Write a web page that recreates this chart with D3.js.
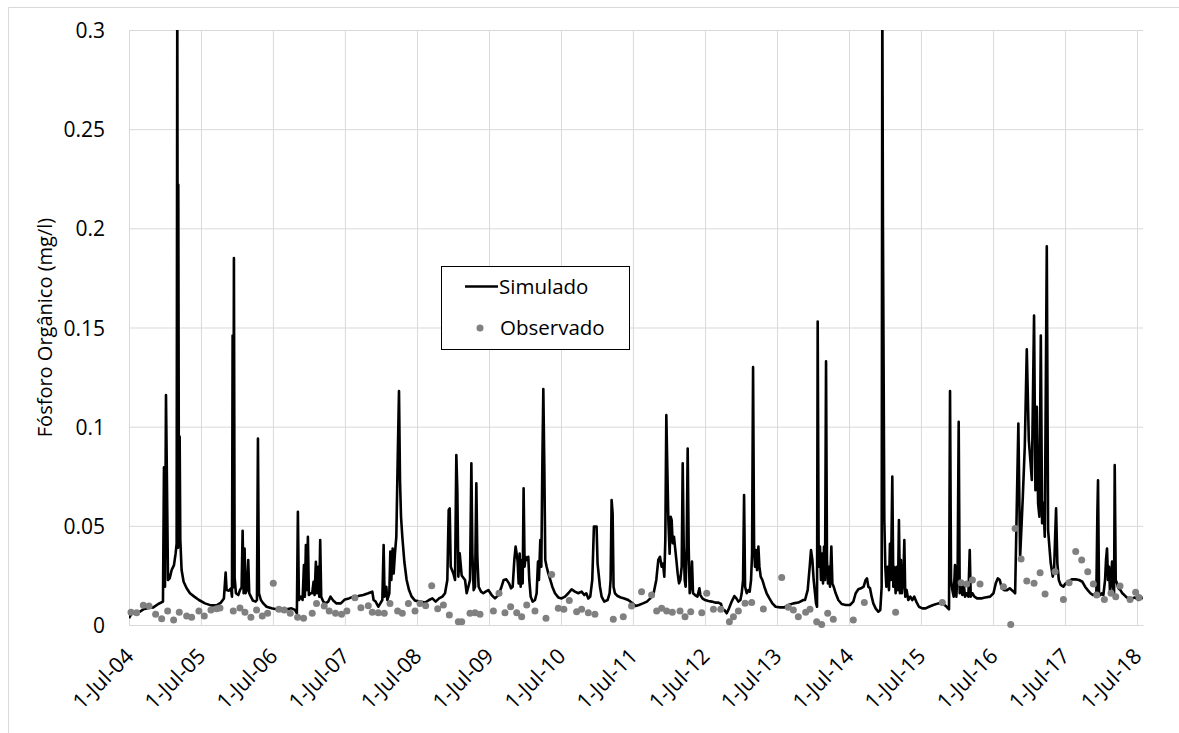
<!DOCTYPE html>
<html>
<head>
<meta charset="utf-8">
<script src="https://cdn.jsdelivr.net/npm/d3@7"></script>
<style>
  body { margin: 0; background: #fff; }
  svg text { font-family: "Open Sans", sans-serif; fill: #000; }
</style>
</head>
<body>
<div id="chart"></div>
<script>
/* Fósforo orgânico: simulado x observado, jul/2004 - jul/2018.
   Dates are decimal years (2004.5 = 1-Jul-04). */

// simulated series [decimal year, mg/l]
const simulado = [
  [2004.500,0.0034],[2004.537,0.0059],[2004.630,0.0062],[2004.699,0.0079],[2004.769,0.0086],[2004.838,0.0089],
  [2004.907,0.0106],[2004.972,0.0118],[2004.986,0.0795],[2005.000,0.0193],[2005.014,0.116],[2005.028,0.070],
  [2005.042,0.0227],[2005.065,0.0235],[2005.093,0.0277],[2005.125,0.0302],[2005.148,0.0361],[2005.162,0.041],
  [2005.171,0.32],[2005.181,0.039],[2005.185,0.222],[2005.194,0.048],[2005.204,0.095],[2005.213,0.043],
  [2005.231,0.0277],[2005.259,0.0218],[2005.301,0.0185],[2005.347,0.016],[2005.407,0.0143],[2005.472,0.0126],
  [2005.556,0.0109],[2005.639,0.0099],[2005.718,0.0099],[2005.778,0.0113],[2005.819,0.0134],[2005.843,0.0264],
  [2005.856,0.0176],[2005.889,0.0173],[2005.917,0.0185],[2005.931,0.0143],[2005.940,0.146],[2005.949,0.019],
  [2005.958,0.185],[2005.968,0.024],[2005.986,0.016],[2006.019,0.0151],[2006.042,0.0176],[2006.065,0.019],
  [2006.079,0.0475],[2006.093,0.016],[2006.106,0.0386],[2006.120,0.016],[2006.139,0.0176],[2006.157,0.0328],
  [2006.171,0.016],[2006.194,0.0143],[2006.222,0.0123],[2006.259,0.0118],[2006.278,0.0126],[2006.292,0.094],
  [2006.306,0.016],[2006.333,0.0126],[2006.366,0.0109],[2006.412,0.0092],[2006.481,0.0084],[2006.551,0.0079],
  [2006.620,0.0076],[2006.690,0.0079],[2006.759,0.0084],[2006.806,0.0076],[2006.833,0.0059],[2006.847,0.0571],
  [2006.861,0.0126],[2006.889,0.0143],[2006.912,0.0126],[2006.931,0.0302],[2006.944,0.0143],[2006.958,0.0403],
  [2006.972,0.0176],[2006.986,0.0445],[2007.000,0.0151],[2007.023,0.016],[2007.046,0.016],[2007.065,0.0218],
  [2007.079,0.0151],[2007.097,0.0319],[2007.111,0.016],[2007.130,0.0294],[2007.144,0.0143],[2007.157,0.0428],
  [2007.171,0.0143],[2007.199,0.0118],[2007.231,0.0109],[2007.269,0.0118],[2007.301,0.0143],[2007.338,0.0123],
  [2007.384,0.0109],[2007.444,0.0109],[2007.500,0.0129],[2007.556,0.0134],[2007.616,0.0143],[2007.685,0.0146],
  [2007.755,0.0151],[2007.824,0.016],[2007.880,0.0168],[2007.898,0.0126],[2007.926,0.0118],[2007.963,0.0092],
  [2007.991,0.0109],[2008.019,0.0126],[2008.037,0.0403],[2008.050,0.0143],[2008.074,0.0193],[2008.088,0.0126],
  [2008.116,0.016],[2008.130,0.037],[2008.144,0.0227],[2008.162,0.0386],[2008.176,0.026],[2008.194,0.0361],
  [2008.213,0.0445],[2008.231,0.0815],[2008.250,0.118],[2008.264,0.073],[2008.278,0.0546],[2008.296,0.0445],
  [2008.324,0.0319],[2008.356,0.0227],[2008.389,0.0176],[2008.426,0.0143],[2008.472,0.0123],[2008.542,0.0118],
  [2008.611,0.0113],[2008.667,0.0126],[2008.713,0.0134],[2008.759,0.0118],[2008.806,0.0134],[2008.852,0.0143],
  [2008.889,0.016],[2008.921,0.0227],[2008.940,0.058],[2008.954,0.0588],[2008.968,0.0294],[2008.986,0.0277],
  [2009.005,0.026],[2009.028,0.0227],[2009.046,0.0857],[2009.060,0.068],[2009.074,0.0244],[2009.093,0.0361],
  [2009.120,0.025],[2009.167,0.0227],[2009.190,0.016],[2009.213,0.0193],[2009.236,0.0227],[2009.255,0.0815],
  [2009.269,0.036],[2009.287,0.0176],[2009.306,0.0193],[2009.324,0.0714],[2009.338,0.0344],[2009.356,0.0193],
  [2009.389,0.0168],[2009.421,0.016],[2009.454,0.0168],[2009.491,0.0176],[2009.537,0.0151],[2009.583,0.0134],
  [2009.630,0.0151],[2009.667,0.0185],[2009.704,0.0227],[2009.741,0.023],[2009.778,0.021],[2009.806,0.0185],
  [2009.829,0.0193],[2009.852,0.0328],[2009.870,0.0395],[2009.884,0.036],[2009.898,0.032],[2009.912,0.021],
  [2009.926,0.036],[2009.940,0.0193],[2009.954,0.0328],[2009.968,0.021],[2009.981,0.0689],[2009.995,0.0294],
  [2010.009,0.0344],[2010.028,0.0328],[2010.046,0.0344],[2010.060,0.0227],[2010.079,0.0143],[2010.106,0.0118],
  [2010.139,0.0126],[2010.162,0.016],[2010.181,0.032],[2010.194,0.0227],[2010.213,0.0428],[2010.227,0.0294],
  [2010.241,0.0798],[2010.255,0.119],[2010.269,0.0798],[2010.282,0.0328],[2010.301,0.0294],[2010.324,0.026],
  [2010.352,0.0227],[2010.380,0.0193],[2010.417,0.016],[2010.463,0.0139],[2010.509,0.0134],[2010.556,0.0143],
  [2010.602,0.016],[2010.648,0.018],[2010.694,0.0168],[2010.741,0.016],[2010.787,0.0168],[2010.824,0.0151],
  [2010.852,0.016],[2010.880,0.0134],[2010.907,0.0143],[2010.935,0.0227],[2010.958,0.0496],[2010.977,0.0496],
  [2010.995,0.0496],[2011.009,0.031],[2011.023,0.026],[2011.042,0.0193],[2011.065,0.0143],[2011.102,0.0118],
  [2011.148,0.0126],[2011.176,0.016],[2011.190,0.0227],[2011.204,0.063],[2011.218,0.0563],[2011.231,0.0193],
  [2011.250,0.016],[2011.287,0.0146],[2011.333,0.0139],[2011.380,0.0134],[2011.435,0.0126],[2011.481,0.0113],
  [2011.537,0.0096],[2011.583,0.0101],[2011.639,0.0109],[2011.694,0.0118],[2011.741,0.0134],[2011.787,0.016],
  [2011.824,0.0227],[2011.852,0.0328],[2011.875,0.0344],[2011.898,0.0294],[2011.917,0.031],[2011.935,0.0244],
  [2011.949,0.0428],[2011.963,0.1058],[2011.977,0.079],[2011.991,0.0529],[2012.009,0.036],[2012.023,0.0546],
  [2012.037,0.0529],[2012.051,0.0412],[2012.069,0.0445],[2012.083,0.0395],[2012.102,0.0328],[2012.120,0.026],
  [2012.139,0.021],[2012.157,0.0227],[2012.176,0.0294],[2012.190,0.0815],[2012.204,0.0395],[2012.218,0.0227],
  [2012.231,0.0193],[2012.245,0.0395],[2012.259,0.089],[2012.273,0.0395],[2012.287,0.016],[2012.301,0.0193],
  [2012.319,0.032],[2012.333,0.016],[2012.361,0.0151],[2012.394,0.0143],[2012.421,0.0185],[2012.435,0.0151],
  [2012.463,0.0134],[2012.500,0.0126],[2012.546,0.0121],[2012.593,0.0118],[2012.639,0.0113],[2012.685,0.0113],
  [2012.722,0.0106],[2012.741,0.0079],[2012.769,0.0076],[2012.801,0.0059],[2012.833,0.0084],[2012.870,0.0118],
  [2012.907,0.0146],[2012.935,0.0134],[2012.963,0.0118],[2012.991,0.0126],[2013.009,0.016],[2013.028,0.0227],
  [2013.042,0.0655],[2013.056,0.0193],[2013.079,0.016],[2013.102,0.0176],[2013.120,0.0168],[2013.139,0.0227],
  [2013.153,0.036],[2013.167,0.130],[2013.181,0.0395],[2013.194,0.0294],[2013.208,0.0378],[2013.222,0.0277],
  [2013.241,0.0395],[2013.255,0.0294],[2013.273,0.0244],[2013.296,0.0227],[2013.324,0.0193],[2013.356,0.016],
  [2013.394,0.0134],[2013.435,0.0109],[2013.481,0.0092],[2013.542,0.0089],[2013.602,0.0089],[2013.657,0.0101],
  [2013.727,0.0109],[2013.796,0.0113],[2013.866,0.0126],[2013.889,0.0126],[2013.926,0.0176],[2013.954,0.0294],
  [2013.972,0.0378],[2013.991,0.0328],[2014.009,0.0227],[2014.028,0.016],[2014.042,0.0109],[2014.056,0.0092],
  [2014.065,0.153],[2014.079,0.0294],[2014.097,0.0395],[2014.111,0.0227],[2014.125,0.036],[2014.139,0.021],
  [2014.153,0.0395],[2014.167,0.0227],[2014.181,0.133],[2014.194,0.0328],[2014.208,0.021],[2014.222,0.0294],
  [2014.236,0.0193],[2014.255,0.0395],[2014.269,0.021],[2014.287,0.0193],[2014.315,0.016],[2014.352,0.0126],
  [2014.398,0.0106],[2014.454,0.0101],[2014.514,0.0101],[2014.560,0.0118],[2014.593,0.016],[2014.630,0.018],
  [2014.667,0.0185],[2014.704,0.0193],[2014.731,0.0227],[2014.750,0.0235],[2014.769,0.0193],[2014.792,0.0185],
  [2014.815,0.0143],[2014.838,0.0109],[2014.870,0.0084],[2014.907,0.0067],[2014.935,0.0076],[2014.954,0.0193],
  [2014.963,0.32],[2014.972,0.20],[2014.991,0.0529],[2015.005,0.0294],[2015.019,0.0193],[2015.037,0.0294],
  [2015.056,0.0176],[2015.069,0.041],[2015.083,0.0227],[2015.102,0.0748],[2015.116,0.0193],[2015.130,0.0294],
  [2015.148,0.016],[2015.167,0.0294],[2015.181,0.0176],[2015.194,0.0529],[2015.208,0.016],[2015.222,0.0328],
  [2015.236,0.016],[2015.255,0.0227],[2015.269,0.0428],[2015.282,0.0143],[2015.301,0.0176],[2015.324,0.0126],
  [2015.352,0.0143],[2015.380,0.0126],[2015.407,0.0143],[2015.435,0.0118],[2015.472,0.0092],[2015.519,0.0084],
  [2015.565,0.0084],[2015.611,0.0092],[2015.671,0.0101],[2015.741,0.0109],[2015.810,0.0106],[2015.856,0.0092],
  [2015.889,0.0079],[2015.903,0.118],[2015.917,0.0227],[2015.935,0.0176],[2015.954,0.0143],[2015.972,0.0302],
  [2015.991,0.0143],[2016.009,0.0294],[2016.023,0.1025],[2016.037,0.016],[2016.056,0.0193],[2016.074,0.0151],
  [2016.093,0.021],[2016.111,0.0143],[2016.130,0.016],[2016.157,0.0143],[2016.176,0.0378],[2016.190,0.0143],
  [2016.213,0.016],[2016.241,0.0143],[2016.278,0.0134],[2016.333,0.0134],[2016.389,0.0139],[2016.458,0.0143],
  [2016.505,0.016],[2016.537,0.021],[2016.565,0.0235],[2016.593,0.0227],[2016.620,0.0185],[2016.657,0.0176],
  [2016.694,0.0176],[2016.731,0.0185],[2016.769,0.0173],[2016.806,0.016],[2016.851,0.1016],[2016.875,0.034],
  [2016.913,0.0647],[2016.940,0.0899],[2016.968,0.139],[2016.996,0.0933],[2017.014,0.0849],[2017.038,0.0731],
  [2017.069,0.156],[2017.088,0.068],[2017.107,0.110],[2017.125,0.0615],[2017.143,0.0546],[2017.163,0.146],
  [2017.181,0.0513],[2017.199,0.0615],[2017.218,0.0445],[2017.246,0.191],[2017.264,0.0479],[2017.282,0.0395],
  [2017.301,0.0311],[2017.329,0.0244],[2017.347,0.0277],[2017.375,0.0588],[2017.393,0.031],[2017.413,0.0227],
  [2017.440,0.0202],[2017.476,0.0193],[2017.500,0.0207],[2017.546,0.0218],[2017.593,0.023],[2017.648,0.023],
  [2017.694,0.0227],[2017.741,0.0218],[2017.778,0.0193],[2017.815,0.0176],[2017.852,0.016],[2017.889,0.0151],
  [2017.917,0.0156],[2017.935,0.0168],[2017.949,0.0563],[2017.958,0.073],[2017.972,0.016],[2017.991,0.0151],
  [2018.009,0.016],[2018.032,0.0151],[2018.056,0.0227],[2018.069,0.0328],[2018.083,0.0386],[2018.097,0.0227],
  [2018.111,0.0294],[2018.125,0.016],[2018.139,0.0227],[2018.153,0.032],[2018.167,0.0193],[2018.181,0.016],
  [2018.190,0.0806],[2018.204,0.0227],[2018.222,0.021],[2018.241,0.0185],[2018.269,0.0176],[2018.296,0.016],
  [2018.324,0.0151],[2018.356,0.0139],[2018.389,0.0134],[2018.426,0.0134],[2018.472,0.0139],[2018.519,0.0126],
  [2018.556,0.0133],[2018.583,0.0139]
];

// observed samples [decimal year, mg/l]
const observado = [
  [2004.528,0.0064],[2004.606,0.0062],[2004.699,0.0099],[2004.778,0.0096],[2004.870,0.0054],[2004.954,0.0032],
  [2005.037,0.0071],[2005.120,0.0025],[2005.199,0.0064],[2005.301,0.0045],[2005.370,0.0039],[2005.472,0.0071],
  [2005.546,0.0045],[2005.639,0.0076],[2005.718,0.0082],[2005.764,0.0086],[2005.949,0.0071],[2006.042,0.0086],
  [2006.111,0.0064],[2006.194,0.0039],[2006.273,0.0076],[2006.352,0.0045],[2006.426,0.0059],[2006.505,0.021],
  [2006.583,0.0079],[2006.657,0.0076],[2006.741,0.0059],[2006.843,0.0039],[2006.926,0.0034],[2007.046,0.0059],
  [2007.106,0.0109],[2007.213,0.0096],[2007.282,0.0071],[2007.370,0.0059],[2007.454,0.0054],[2007.528,0.0071],
  [2007.639,0.0138],[2007.722,0.0087],[2007.824,0.0097],[2007.880,0.0064],[2007.963,0.0062],[2008.046,0.0059],
  [2008.125,0.0109],[2008.231,0.0071],[2008.296,0.0059],[2008.380,0.0109],[2008.472,0.0071],[2008.542,0.0109],
  [2008.620,0.0097],[2008.704,0.0198],[2008.787,0.0082],[2008.866,0.0101],[2008.949,0.005],[2009.074,0.0017],
  [2009.121,0.0017],[2009.236,0.0059],[2009.306,0.0062],[2009.375,0.0054],[2009.561,0.0071],[2009.639,0.016],
  [2009.722,0.0062],[2009.801,0.0092],[2009.885,0.0062],[2009.954,0.0042],[2010.024,0.0101],[2010.139,0.0071],
  [2010.292,0.0034],[2010.371,0.0255],[2010.463,0.0084],[2010.540,0.0079],[2010.616,0.0123],[2010.718,0.0067],
  [2010.787,0.0079],[2010.880,0.0062],[2010.972,0.0054],[2011.227,0.0029],[2011.366,0.0042],[2011.481,0.0096],
  [2011.620,0.0168],[2011.759,0.0151],[2011.829,0.0071],[2011.898,0.0084],[2011.968,0.0071],[2012.046,0.0064],
  [2012.153,0.0071],[2012.222,0.0042],[2012.301,0.0067],[2012.454,0.0062],[2012.523,0.016],[2012.616,0.0079],
  [2012.718,0.0079],[2012.838,0.0017],[2012.894,0.0042],[2012.963,0.0071],[2013.056,0.011],[2013.148,0.0113],
  [2013.310,0.0081],[2013.565,0.024],[2013.657,0.0089],[2013.727,0.0076],[2013.796,0.0042],[2013.898,0.0064],
  [2013.958,0.0079],[2014.051,0.0017],[2014.120,0.0002],[2014.204,0.0059],[2014.282,0.0029],[2014.560,0.0025],
  [2014.713,0.0113],[2015.148,0.0064],[2015.796,0.0113],[2016.056,0.0213],[2016.134,0.0207],[2016.213,0.0227],
  [2016.319,0.0207],[2016.644,0.0193],[2016.745,0.0002],[2016.806,0.0487],[2016.889,0.0333],[2016.968,0.0222],
  [2017.069,0.021],[2017.153,0.0264],[2017.222,0.0156],[2017.361,0.0269],[2017.477,0.0129],[2017.556,0.0213],
  [2017.648,0.037],[2017.731,0.0328],[2017.815,0.0269],[2017.893,0.0207],[2017.940,0.0151],[2018.046,0.0129],
  [2018.139,0.016],[2018.204,0.0143],[2018.264,0.0197],[2018.403,0.0129],[2018.481,0.0165],[2018.528,0.0139]
];

const tickYears = d3.range(2004, 2019);            // 1-Jul of each year
const yTicks = [0, 0.05, 0.1, 0.15, 0.2, 0.25, 0.3];
const seriesNames = ["Simulado", "Observado"];
const yTitle = "Fósforo Orgânico (mg/l)";

// decimal year (counted from 1 July) -> Date
function toDate(v) {
    const k = Math.floor(v - 0.5);
    const start = Date.UTC(k, 6, 1), end = Date.UTC(k + 1, 6, 1);
    return new Date(start + (v - 0.5 - k) * (end - start));
}

const width = 1179,
      height = 733,
      margin = ({ top: 30, right: 36, bottom: 108, left: 129 });

let svg = d3.select("#chart")
    .append("svg")
    .attr("width", width)
    .attr("height", height);

// chart area frame (only top/left visible in the crop)
svg.append("path")
    .attr("d", `M8.5,${height} V7.5 H${width}`)
    .attr("fill", "none")
    .attr("stroke", "#d9d9d9");

let x = d3.scaleUtc()
    .domain([toDate(2004.5), toDate(2018.583)])
    .range([margin.left, width - margin.right]);

let y = d3.scaleLinear()
    .domain([0, 0.3])
    .range([height - margin.bottom, margin.top]);

const plotW = width - margin.right - margin.left,
      plotH = height - margin.bottom - margin.top;

// y axis + horizontal gridlines
let yAxis = svg.append("g")
    .attr("transform", `translate(${margin.left},0)`)
    .call(d3.axisLeft(y)
        .tickValues(yTicks)
        .tickFormat(d3.format("~g"))
        .tickSize(-plotW)
        .tickPadding(24));
yAxis.select(".domain").remove();
yAxis.selectAll("line").attr("stroke", "#d9d9d9");
yAxis.selectAll("text")
    .attr("font-size", 21)
    .attr("dy", "0.36em")
    .style("font-family", '"Open Sans", sans-serif');

// x axis + vertical gridlines
let xAxis = svg.append("g")
    .attr("transform", `translate(0,${height - margin.bottom})`)
    .call(d3.axisBottom(x)
        .tickValues(tickYears.map(yr => new Date(Date.UTC(yr, 6, 1))))
        .tickFormat(d3.utcFormat("%-d-%b-%y"))
        .tickSize(-plotH)
        .tickSizeOuter(0));
xAxis.select(".domain").attr("stroke", "#d9d9d9");
xAxis.selectAll("line").attr("stroke", "#d9d9d9");
xAxis.selectAll("text")
    .attr("x", 0)
    .attr("y", 0)
    .attr("dy", "0.36em")
    .attr("transform", "translate(0,27) rotate(-45)")
    .attr("text-anchor", "end")
    .attr("font-size", 21.5)
    .style("font-family", '"Open Sans", sans-serif');

// y title
svg.append("text")
    .attr("transform", `translate(52,${(margin.top + height - margin.bottom) / 2}) rotate(-90)`)
    .attr("text-anchor", "middle")
    .attr("font-size", 20)
    .text(yTitle);

// clip the spikes that go past 0.3
svg.append("clipPath")
    .attr("id", "plot-clip")
    .append("rect")
    .attr("x", margin.left)
    .attr("y", margin.top)
    .attr("width", plotW)
    .attr("height", plotH);

let line = d3.line()
    .x(d => x(toDate(d[0])))
    .y(d => y(d[1]));

svg.append("path")
    .datum(simulado)
    .attr("clip-path", "url(#plot-clip)")
    .attr("fill", "none")
    .attr("stroke", "#000")
    .attr("stroke-width", 2.6)
    .attr("stroke-linejoin", "round")
    .attr("d", line);

svg.append("g")
    .selectAll("circle")
    .data(observado)
    .join("circle")
    .attr("cx", d => x(toDate(d[0])))
    .attr("cy", d => y(d[1]))
    .attr("r", 3.5)
    .attr("fill", "#808080");

// legend
let legend = svg.append("g").attr("transform", "translate(441,266)");
legend.append("rect")
    .attr("x", 0.5).attr("y", 0.5)
    .attr("width", 188).attr("height", 83)
    .attr("fill", "#fff")
    .attr("stroke", "#000");
legend.append("line")
    .attr("x1", 24).attr("x2", 57)
    .attr("y1", 20.5).attr("y2", 20.5)
    .attr("stroke", "#000")
    .attr("stroke-width", 2.6);
legend.append("circle")
    .attr("cx", 39).attr("cy", 62)
    .attr("r", 3.5)
    .attr("fill", "#808080");
legend.selectAll(".lbl")
    .data(seriesNames)
    .join("text")
    .attr("class", "lbl")
    .attr("x", (d, i) => i === 0 ? 58 : 59)
    .attr("y", (d, i) => i === 0 ? 20.5 : 62)
    .attr("dy", "0.36em")
    .attr("font-size", 20.5)
    .text(d => d);
</script>
</body>
</html>
